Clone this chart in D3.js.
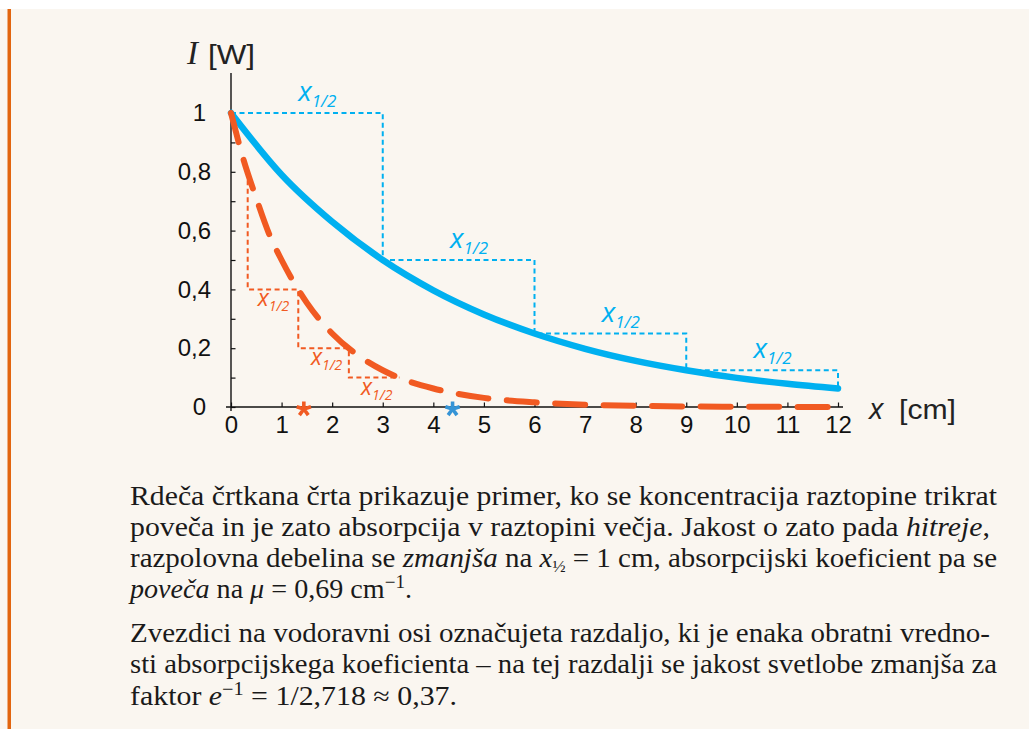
<!DOCTYPE html>
<html>
<head>
<meta charset="utf-8">
<script src="https://cdn.jsdelivr.net/npm/d3@7"></script>
<style>
  body { margin: 0; background: #fff; }
  svg { display: block; }
</style>
</head>
<body>
<svg id="chart" width="1029" height="729"></svg>
<script>
// values
const xTicks = [0, 1, 2, 3, 4, 5, 6, 7, 8, 9, 10, 11, 12];
const yTicks = [0, 0.1, 0.2, 0.3, 0.4, 0.5, 0.6, 0.7, 0.8, 0.9, 1];
const yLabels = [0, 0.2, 0.4, 0.6, 0.8, 1];

// blue: x1/2 = 3 cm
const blueX = [0, 1, 2, 3, 4, 5, 6, 7, 8, 9, 10, 11, 12];
const blueI = [1, 0.79, 0.63, 0.5, 0.397, 0.315, 0.25, 0.198, 0.157, 0.125, 0.099, 0.079, 0.063];
// red dashed: x1/2 = 1 cm
const redX = [0, 0.25, 0.5, 0.75, 1, 1.5, 2, 2.5, 3, 3.5, 4, 5, 6, 7, 8, 9, 10, 11, 12];
const redI = [1, 0.84, 0.71, 0.59, 0.5, 0.354, 0.25, 0.177, 0.125, 0.088, 0.063, 0.031, 0.016, 0.008, 0.004, 0.002, 0.001, 0.0005, 0.0002];

// dotted half-thickness steps
const blueStepX = [0, 3, 3, 6, 6, 9, 9, 12, 12];
const blueStepI = [1, 1, 0.5, 0.5, 0.25, 0.25, 0.125, 0.125, 0.063];
const redStepX = [0.33, 0.33, 1.33, 1.33, 2.33, 2.33, 3.33];
const redStepI = [0.8, 0.4, 0.4, 0.2, 0.2, 0.1, 0.1];

const blueLabelX = [1.33, 4.33, 7.33, 10.33];
const blueLabelI = [1, 0.5, 0.25, 0.125];
const redLabelX = [0.53, 1.58, 2.57];
const redLabelI = [0.4, 0.2, 0.1];

// 1/mu on the x axis
const starX = [1.44, 4.38];
const starColor = ["#f15a22", "#3594d6"];

const blue = "#00b0f0";
const red = "#f15a22";
const SANS = "Liberation Sans";
const SERIF = "Liberation Serif";
const CAL = "Open Sans";

const svg = d3.select("#chart");

// page background + orange bar
svg.append("rect").attr("x", 0).attr("y", 9).attr("width", 1029).attr("height", 720).attr("fill", "#faf6f0");
svg.append("rect").attr("x", 7.5).attr("y", 9).attr("width", 3.5).attr("height", 720).attr("fill", "#e2650f");

const x = d3.scaleLinear().domain([0, 12]).range([231, 838]);
const y = d3.scaleLinear().domain([0, 1]).range([407, 113]);

const comma = d => String(d).replace(".", ",");

// axes
const xAxis = svg.append("g")
  .attr("transform", "translate(0," + y(0) + ")")
  .call(d3.axisBottom(x).tickValues(xTicks).tickSizeInner(-4.5).tickSizeOuter(0).tickPadding(9));
xAxis.attr("font-family", SANS).attr("font-size", 24);
xAxis.select(".domain").remove();
xAxis.selectAll("text").attr("fill", "#111");
xAxis.selectAll("line").attr("stroke", "#111").attr("stroke-width", 1.2);

const yAxis = svg.append("g")
  .attr("transform", "translate(" + x(0) + ",0)")
  .call(d3.axisLeft(y).tickValues(yTicks).tickSizeInner(-4.5).tickSizeOuter(0).tickPadding(20)
    .tickFormat(d => yLabels.includes(d) ? comma(d) : ""));
yAxis.attr("font-family", SANS).attr("font-size", 24);
yAxis.select(".domain").remove();
yAxis.selectAll("text").attr("fill", "#111")
  .attr("dx", d => Number.isInteger(d) ? -5 : 0);
yAxis.selectAll("line").attr("stroke", "#111").attr("stroke-width", 1.2);

svg.append("line").attr("x1", x(0) - 5).attr("x2", x(12) + 5).attr("y1", y(0)).attr("y2", y(0))
  .attr("stroke", "#111").attr("stroke-width", 1.4);
svg.append("line").attr("x1", x(0)).attr("x2", x(0)).attr("y1", 73).attr("y2", y(0) + 4)
  .attr("stroke", "#111").attr("stroke-width", 1.4);

// axis titles
svg.append("text").attr("x", 187).attr("y", 64).attr("fill", "#222")
  .attr("font-family", SERIF).attr("font-style", "italic").attr("font-size", 33).text("I");
svg.append("text").attr("x", 208).attr("y", 64).attr("fill", "#222")
  .attr("font-family", SANS).attr("font-size", 27)
  .attr("textLength", 47).attr("lengthAdjust", "spacingAndGlyphs").text("[W]");
svg.append("text").attr("x", 869).attr("y", 419).attr("fill", "#222")
  .attr("font-family", CAL).attr("font-style", "italic").attr("font-size", 30).text("x");
svg.append("text").attr("x", 899).attr("y", 419).attr("fill", "#222")
  .attr("font-family", SANS).attr("font-size", 27)
  .attr("textLength", 57).attr("lengthAdjust", "spacingAndGlyphs").text("[cm]");

// dotted steps
const stepLine = d3.line().x(d => x(d[0])).y(d => y(d[1]));
svg.append("path")
  .attr("d", stepLine(d3.zip(blueStepX, blueStepI)))
  .attr("fill", "none").attr("stroke", blue).attr("stroke-width", 2).attr("stroke-dasharray", "5 3.5");
svg.append("path")
  .attr("d", stepLine(d3.zip(redStepX, redStepI)))
  .attr("fill", "none").attr("stroke", red).attr("stroke-width", 2).attr("stroke-dasharray", "5 3.5");

// curves
const curve = d3.line().x(d => x(d[0])).y(d => y(d[1])).curve(d3.curveMonotoneX);
svg.append("path")
  .attr("d", curve(d3.zip(blueX, blueI)))
  .attr("fill", "none").attr("stroke", blue).attr("stroke-width", 6.5).attr("stroke-linecap", "round");
svg.append("path")
  .attr("d", curve(d3.zip(redX, redI)))
  .attr("fill", "none").attr("stroke", red).attr("stroke-width", 6).attr("stroke-linecap", "round")
  .attr("stroke-dasharray", "30 18.5");

// x1/2 labels
function halfLabel(xv, iv, color, size, off) {
  const t = svg.append("text").attr("x", x(xv)).attr("y", y(iv) + off)
    .attr("fill", color).attr("font-family", CAL).attr("font-style", "italic");
  t.append("tspan").attr("font-size", size).text("x");
  t.append("tspan").attr("font-size", Math.round(size * 0.62)).attr("dy", size * 0.22).text("1/2");
}
blueLabelX.forEach((v, i) => halfLabel(v, blueLabelI[i], blue, 28, -12));
redLabelX.forEach((v, i) => halfLabel(v, redLabelI[i], red, 23, 17));

// stars: five-armed asterisks drawn as paths
function star(r) {
  const p = d3.path();
  for (let k = 0; k < 5; k++) {
    const a = -Math.PI / 2 + k * 2 * Math.PI / 5;
    p.moveTo(0, 0);
    p.lineTo(r * Math.cos(a), r * Math.sin(a));
  }
  return p.toString();
}
svg.selectAll(".star").data(starX).join("path")
  .attr("class", "star")
  .attr("transform", d => "translate(" + x(d) + "," + (y(0) + 2) + ")")
  .attr("d", star(7.5))
  .attr("fill", "none")
  .attr("stroke", (d, i) => starColor[i])
  .attr("stroke-width", 3.6);

// caption text below the chart
const lines = [
  { y: 505, w: 867, segs: [["Rdeča črtkana črta prikazuje primer, ko se koncentracija raztopine trikrat"]] },
  { y: 536, w: 860, segs: [["poveča in je zato absorpcija v raztopini večja.  Jakost o zato pada "], ["hitreje", "i"], [","]] },
  { y: 567, w: 867, segs: [["razpolovna debelina se "], ["zmanjša", "i"], [" na "], ["x", "i"], ["½", "sub"], [" = 1 cm, absorpcijski koeficient pa se"]] },
  { y: 598, w: 282, segs: [["poveča", "i"], [" na "], ["μ", "i"], [" = 0,69 cm"], ["−1", "sup"], ["."]] },
  { y: 642, w: 860, segs: [["Zvezdici na vodoravni osi označujeta razdaljo, ki je enaka obratni vredno-"]] },
  { y: 673, w: 867, segs: [["sti absorpcijskega koeficienta – na tej razdalji se jakost svetlobe zmanjša za"]] },
  { y: 705, w: 327, segs: [["faktor "], ["e", "i"], ["−1", "sup"], [" = 1/2,718 ≈ 0,37."]] }
];

lines.forEach(l => {
  const t = svg.append("text")
    .attr("x", 130).attr("y", l.y)
    .attr("font-family", SERIF).attr("font-size", 26.5)
    .attr("fill", "#1a1a1a")
    .attr("textLength", l.w).attr("lengthAdjust", "spacingAndGlyphs");
  let shift = 0;
  l.segs.forEach(s => {
    const ts = t.append("tspan").text(s[0]);
    let target = 0;
    if (s[1] === "i") ts.attr("font-style", "italic");
    if (s[1] === "sub") { target = 5; ts.attr("font-size", 16); }
    if (s[1] === "sup") { target = -10; ts.attr("font-size", 18); }
    if (target !== shift) { ts.attr("dy", target - shift); shift = target; }
  });
});
</script>
</body>
</html>
